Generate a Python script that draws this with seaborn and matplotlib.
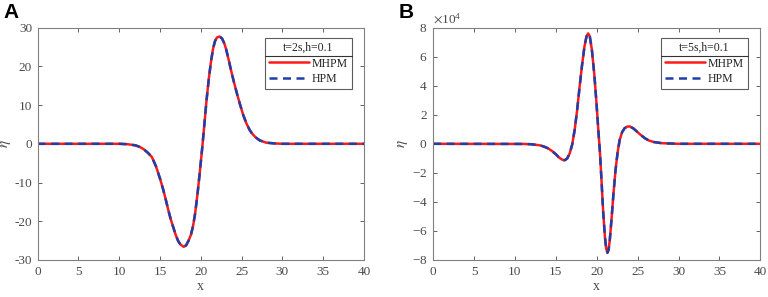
import numpy as np
import pandas as pd
import matplotlib
matplotlib.use("Agg")
import matplotlib.pyplot as plt
import seaborn as sns
from matplotlib.ticker import ScalarFormatter

# panel A, t=2s
xa = [0, 10, 11, 12, 12.5, 13, 13.5, 14, 14.5, 15, 15.4, 15.75, 16, 16.3, 16.6, 16.9,
      17.2, 17.5, 17.9, 18.2, 18.5, 18.8, 19.05, 19.3, 19.6, 19.9, 20.2, 20.45, 20.7,
      21.0, 21.25, 21.5, 21.75, 22.0, 22.3, 22.6, 22.9, 23.1, 23.4, 23.7, 24.0, 24.2,
      24.5, 24.8, 25.2, 25.6, 26.0, 26.3, 26.7, 27.2, 28, 29, 30, 40]
ya = [0, 0, -0.1, -0.4, -0.8, -1.4, -2.3, -3.4, -5.8, -9.0, -11.9, -14.8, -17.0,
      -19.4, -21.4, -23.4, -25.0, -26.0, -26.6, -26.2, -25.0, -23.4, -21.2, -18.0,
      -12.8, -6.8, -0.4, 5.4, 11.3, 17.2, 21.3, 24.6, 26.6, 27.5, 27.7, 27.2, 25.8,
      24.4, 21.8, 19.0, 16.4, 14.8, 12.4, 10.2, 7.4, 5.2, 3.5, 2.6, 1.7, 0.9, 0.3,
      0.1, 0, 0]

# panel B, t=5s (read in units of 1e4)
xb = [0, 11, 12, 13, 13.5, 14, 14.5, 15, 15.4, 15.8, 16.1, 16.4, 16.7, 17.0, 17.3,
      17.6, 17.9, 18.2, 18.5, 18.75, 18.95, 19.15, 19.4, 19.7, 19.97, 20.2, 20.4,
      20.6, 20.8, 21.0, 21.15, 21.3, 21.45, 21.6, 21.8, 22.05, 22.3, 22.55, 22.8,
      23.1, 23.4, 23.7, 24.05, 24.5, 24.9, 25.4, 25.9, 26.4, 27, 28, 30, 40]
yb = [0, -0.01, -0.03, -0.1, -0.18, -0.3, -0.48, -0.72, -0.95, -1.1, -1.13, -1.0,
      -0.65, -0.05, 0.95, 2.3, 3.9, 5.4, 6.7, 7.4, 7.6, 7.4, 6.5, 4.8, 2.8, 0.9,
      -0.65, -2.7, -4.8, -6.4, -7.2, -7.5, -7.3, -6.6, -5.25, -3.4, -1.8, -0.6, 0.26,
      0.8, 1.07, 1.18, 1.2, 1.05, 0.85, 0.6, 0.38, 0.22, 0.12, 0.04, 0, 0]
yb = [v * 1e4 for v in yb]

titles = ["t=2s,h=0.1", "t=5s,h=0.1"]
panel_labels = ["A", "B"]

sns.set_theme(style="ticks")
plt.rcParams["font.family"] = ["Liberation Serif", "DejaVu Serif"]
plt.rcParams["mathtext.fontset"] = "stix"
plt.rcParams["axes.unicode_minus"] = False
gray = "#4a4a4a"

fig = plt.figure(figsize=(7.68, 2.97), dpi=100)
axA = fig.add_axes([0.049, 0.1246, 0.425, 0.7824])
axB = fig.add_axes([0.564, 0.1246, 0.426, 0.7824])

red = "#ff1a1a"
blue = "#1f3fa8"

for ax, x, y, title in [(axA, xa, ya, titles[0]), (axB, xb, yb, titles[1])]:
    df = pd.DataFrame({"x": x, "y": y})
    sns.lineplot(data=df, x="x", y="y", ax=ax, color=red, linewidth=1.8,
                 label="MHPM", sort=False)
    sns.lineplot(data=df, x="x", y="y", ax=ax, color=blue, linewidth=1.8,
                 linestyle=(0, (3.2, 2.2)), label="HPM", sort=False)
    ax.set_xlim(0, 40)
    ax.set_xticks(range(0, 41, 5))
    ax.set_xlabel("x", fontsize=10, color=gray, labelpad=2)
    ax.set_ylabel(r"$\eta$", fontsize=11, color=gray, labelpad=1)
    ax.tick_params(direction="in", top=True, right=True, length=3, width=0.6,
                   colors=gray, labelsize=9.5, pad=4)
    for s in ax.spines.values():
        s.set_color("#808080")
        s.set_linewidth(0.8)
    leg = ax.legend(title=title, loc="upper right", bbox_to_anchor=(0.962, 0.956),
                    fontsize=8.5, title_fontsize=8.5, frameon=True, fancybox=False,
                    edgecolor="#333333", handlelength=3.4, borderpad=0.35,
                    labelspacing=0.3, handletextpad=0.2, borderaxespad=0)
    leg.get_frame().set_linewidth(0.8)
    for t in leg.get_texts():
        t.set_color("#222222")

axA.set_ylim(-30, 30)
axA.set_yticks(range(-30, 31, 10))
axB.set_ylim(-8e4, 8e4)
axB.set_yticks(np.arange(-8e4, 8.1e4, 2e4))
fmt = ScalarFormatter(useMathText=True)
fmt.set_powerlimits((0, 0))
axB.yaxis.set_major_formatter(fmt)
axB.yaxis.get_offset_text().set_color(gray)
axB.yaxis.get_offset_text().set_fontsize(9.5)

# separator line under legend title
fig.canvas.draw()
inv = fig.transFigure.inverted()
for ax in (axA, axB):
    leg = ax.get_legend()
    lb = leg.get_window_extent()
    tb = leg.get_title().get_window_extent()
    ysep = tb.y0 - 2
    (x0, y0) = inv.transform((lb.x0, ysep))
    (x1, _) = inv.transform((lb.x1, ysep))
    fig.add_artist(plt.Line2D([x0, x1], [y0, y0], color="#333333", linewidth=0.8))

for ax, lab in zip((axA, axB), panel_labels):
    pos = ax.get_position()
    fig.text(pos.x0 - 0.045, 0.99, lab, fontsize=15, fontweight="bold",
             family="Liberation Sans", va="top", ha="left", color="black")

fig.savefig("out.png", dpi=100)
